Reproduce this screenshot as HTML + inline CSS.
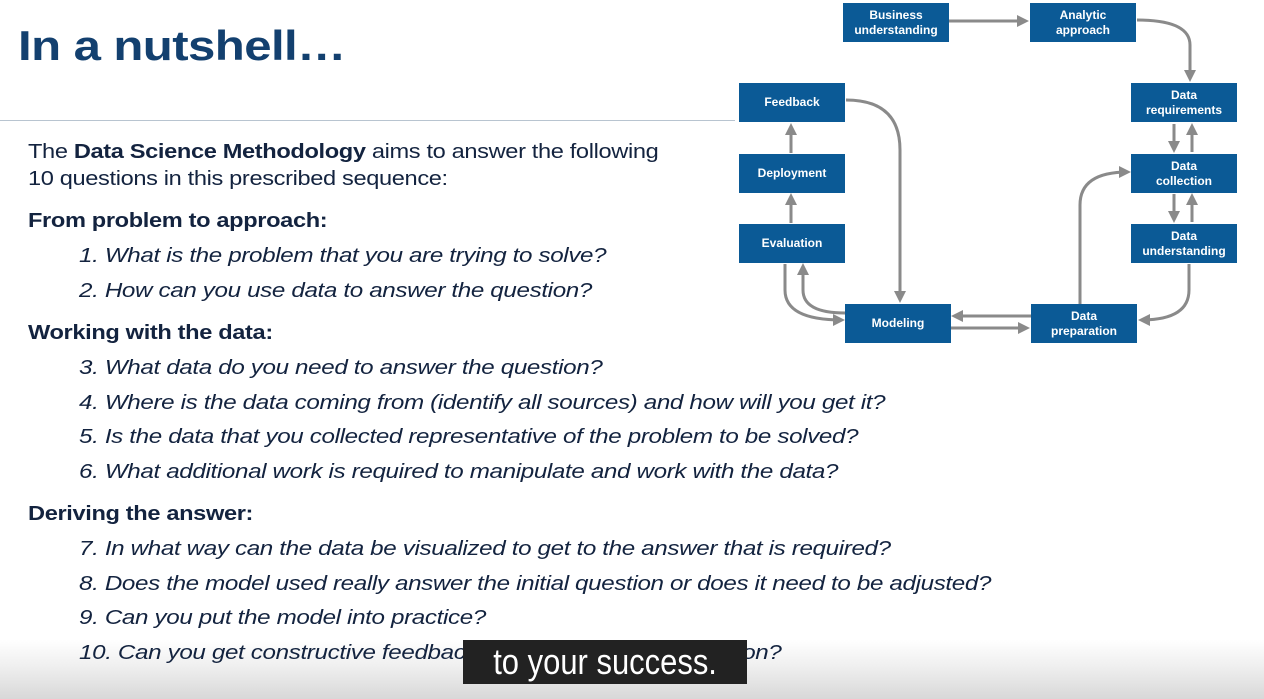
<!DOCTYPE html>
<html><head><meta charset="utf-8"><style>
body{margin:0;width:1264px;height:699px;overflow:hidden;background:#fff;position:relative;font-family:"Liberation Sans",sans-serif}
.t{position:absolute;color:#13233f;font-size:20px;white-space:nowrap;letter-spacing:-0.3px;transform:scaleX(1.21);transform-origin:0 0}
.i{font-style:italic;left:79px}
.b{font-weight:bold}
.box{position:absolute;background:#0b5a96;color:#fff;font-weight:bold;font-size:12px;line-height:15px;display:flex;align-items:center;justify-content:center;text-align:center;width:106px;height:39px}
</style></head><body>
<div style="position:absolute;left:0;top:0;width:1264px;height:699px;background:linear-gradient(#fff 0,#fff 640px,#f0f0f0 665px,#d8d8d8 699px)"></div>
<div class="t b" style="left:18px;top:22px;font-size:42px;color:#13406f;letter-spacing:-0.5px;transform:scaleX(1.17)">In a nutshell…</div>
<div style="position:absolute;left:0;top:120px;width:735px;height:1px;background:#b8c4d0"></div>
<div class="t" style="left:28px;top:141px;transform:scaleX(1.18)">The <b>Data Science Methodology</b> aims to answer the following</div>
<div class="t" style="left:28px;top:168px;transform:scaleX(1.18)">10 questions in this prescribed sequence:</div>
<div class="t b" style="left:28px;top:210px;transform:scaleX(1.18)">From problem to approach:</div>
<div class="t i" style="top:245px">1. What is the problem that you are trying to solve?</div>
<div class="t i" style="top:280px">2. How can you use data to answer the question?</div>
<div class="t b" style="left:28px;top:322px;transform:scaleX(1.18)">Working with the data:</div>
<div class="t i" style="top:357px">3. What data do you need to answer the question?</div>
<div class="t i" style="top:392px">4. Where is the data coming from (identify all sources) and how will you get it?</div>
<div class="t i" style="top:426px">5. Is the data that you collected representative of the problem to be solved?</div>
<div class="t i" style="top:461px">6. What additional work is required to manipulate and work with the data?</div>
<div class="t b" style="left:28px;top:503px;transform:scaleX(1.18)">Deriving the answer:</div>
<div class="t i" style="top:538px">7. In what way can the data be visualized to get to the answer that is required?</div>
<div class="t i" style="top:573px">8. Does the model used really answer the initial question or does it need to be adjusted?</div>
<div class="t i" style="top:607px">9. Can you put the model into practice?</div>
<div class="t i" style="top:642px">10. Can you get constructive feedback into answering the question?</div>
<div style="position:absolute;left:463px;top:640px;width:284px;height:44px;background:#222;color:#fff;font-size:36px;line-height:44px;text-align:center;overflow:hidden"><span style="display:inline-block;transform:scaleX(0.86)">to your success.</span></div>
<svg style="position:absolute;left:0;top:0" width="1264" height="699">
<defs><marker id="a" markerWidth="12" markerHeight="12" refX="9" refY="6" orient="auto" markerUnits="userSpaceOnUse"><path d="M0,0 L12,6 L0,12 Z" fill="#8a8a8a"/></marker></defs>
<g stroke="#8a8a8a" stroke-width="3" fill="none" marker-end="url(#a)">
<path d="M949,21 H1026"/>
<path d="M1137,20 Q1190,20 1190,45 V79"/>
<path d="M846,100 Q900,100 900,150 V300"/>
<path d="M791,153 V126"/>
<path d="M791,223 V196"/>
<path d="M785,264 V290 Q785,320 842,320"/>
<path d="M845,313 Q803,313 803,290 V266"/>
<path d="M951,328 H1027"/>
<path d="M1031,316 H954"/>
<path d="M1080,304 V205 Q1080,172 1128,172"/>
<path d="M1189,264 V290 Q1189,320 1141,320"/>
<path d="M1174,124 V150"/>
<path d="M1192,152 V126"/>
<path d="M1174,194 V220"/>
<path d="M1192,222 V196"/>
</g></svg>
<div class="box" style="left:843px;top:3px">Business<br>understanding</div>
<div class="box" style="left:1030px;top:3px">Analytic<br>approach</div>
<div class="box" style="left:739px;top:83px">Feedback</div>
<div class="box" style="left:739px;top:154px">Deployment</div>
<div class="box" style="left:739px;top:224px">Evaluation</div>
<div class="box" style="left:845px;top:304px">Modeling</div>
<div class="box" style="left:1031px;top:304px">Data<br>preparation</div>
<div class="box" style="left:1131px;top:83px">Data<br>requirements</div>
<div class="box" style="left:1131px;top:154px">Data<br>collection</div>
<div class="box" style="left:1131px;top:224px">Data<br>understanding</div>
</body></html>
